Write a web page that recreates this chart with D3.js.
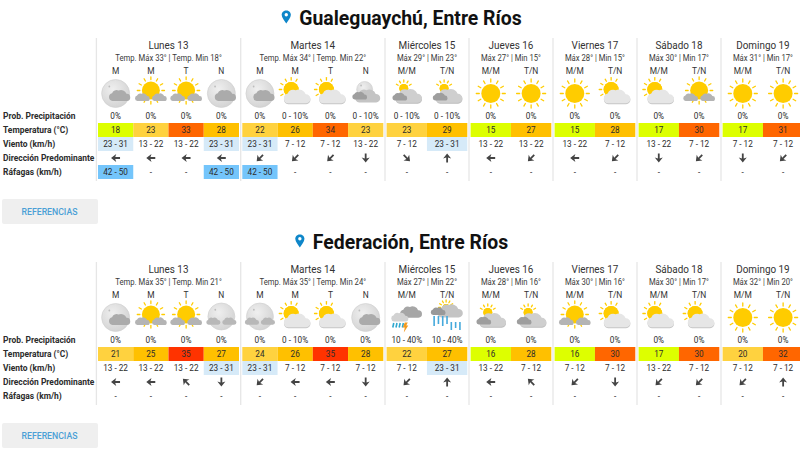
<!DOCTYPE html>
<html lang="es">
<head>
<meta charset="utf-8">
<title>Pronóstico Entre Ríos</title>
<script src="https://cdn.jsdelivr.net/npm/d3@7"></script>
<style>
  html, body { margin: 0; padding: 0; background: #fff; }
  svg { display: block; font-family: Roboto, sans-serif; }
  .title { font-size: 19.4px; font-weight: 700; fill: #111; }
  .day { font-size: 9.9px; fill: #333; text-anchor: middle; }
  .sub { font-size: 7.7px; fill: #3a3a3a; text-anchor: middle; }
  .period { font-size: 8.4px; fill: #333; text-anchor: middle; }
  .val { font-size: 8.2px; fill: #2c2c2c; text-anchor: middle; }
  .row-label { font-size: 8.45px; font-weight: 700; fill: #2c2c2c; }
  .btn { font-size: 8.7px; font-weight: 500; fill: #4b9fd6; text-anchor: middle; }
  /* el texto original es un poco mas alto que ancho */
  .day, .sub, .period, .val, .row-label { transform-box: fill-box; transform-origin: center; transform: scaleY(1.14); }
</style>
</head>
<body>
<div id="chart"></div>
<script>
// Pronóstico extendido, dos localidades

const DAYS = ["Lunes 13", "Martes 14", "Miércoles 15", "Jueves 16", "Viernes 17", "Sábado 18", "Domingo 19"];
const PERIODS = [["M", "M", "T", "N"], ["M", "M", "T", "N"], ["M/M", "T/N"], ["M/M", "T/N"], ["M/M", "T/N"], ["M/M", "T/N"], ["M/M", "T/N"]];
const ROW_LABELS = ["Prob. Precipitación", "Temperatura (°C)", "Viento (km/h)", "Dirección Predominante", "Ráfagas (km/h)"];

// Gualeguaychú
const G_MAX = [33, 34, 29, 27, 28, 30, 31];
const G_MIN = [18, 22, 23, 15, 15, 17, 17];
const G_ICONS = ["moonCloud", "sunGrey", "sunGrey", "moonCloud", "moonCloud", "sunPale", "sunPale", "moonDark", "sunDark", "sunDark", "sun", "sun", "sun", "sunPale", "sunPale", "sunGrey", "sun", "sun"];
const G_PROB = ["0%", "0%", "0%", "0%", "0%", "0 - 10%", "0%", "0 - 10%", "0 - 10%", "0 - 10%", "0%", "0%", "0%", "0%", "0%", "0%", "0%", "0%"];
const G_TEMP = [18, 23, 33, 28, 22, 26, 34, 23, 23, 29, 15, 27, 15, 28, 17, 30, 17, 31];
const G_WIND = ["23 - 31", "13 - 22", "13 - 22", "23 - 31", "23 - 31", "7 - 12", "7 - 12", "13 - 22", "7 - 12", "23 - 31", "13 - 22", "13 - 22", "13 - 22", "7 - 12", "13 - 22", "7 - 12", "7 - 12", "7 - 12"];
const G_DIR = ["W", "W", "W", "W", "SW", "SW", "SW", "S", "SE", "N", "W", "SW", "W", "SW", "S", "SW", "S", "SW"];
const G_GUST = ["42 - 50", "-", "-", "42 - 50", "42 - 50", "-", "-", "-", "-", "-", "-", "-", "-", "-", "-", "-", "-", "-"];

// Federación
const F_MAX = [35, 35, 27, 28, 30, 30, 32];
const F_MIN = [21, 24, 22, 16, 16, 17, 20];
const F_ICONS = ["moonCloud", "sunGrey", "sunGrey", "moonGrey", "moonGrey", "sunPale", "sunPale", "moonCloud", "storm", "rain", "sunDark", "sunDark", "sunGrey", "sunPale", "sunPale", "sunPale", "sun", "sun"];
const F_PROB = ["0%", "0%", "0%", "0%", "0%", "0 - 10%", "0%", "0%", "10 - 40%", "10 - 40%", "0%", "0%", "0%", "0%", "0%", "0%", "0%", "0%"];
const F_TEMP = [21, 25, 35, 27, 24, 26, 35, 28, 22, 27, 16, 28, 16, 30, 17, 30, 20, 32];
const F_WIND = ["13 - 22", "13 - 22", "13 - 22", "23 - 31", "23 - 31", "7 - 12", "7 - 12", "7 - 12", "7 - 12", "23 - 31", "13 - 22", "7 - 12", "7 - 12", "7 - 12", "13 - 22", "7 - 12", "7 - 12", "7 - 12"];
const F_DIR = ["W", "W", "NW", "S", "SW", "W", "W", "S", "SW", "N", "W", "NW", "SW", "S", "SW", "SW", "SW", "N"];
const F_GUST = ["-", "-", "-", "-", "-", "-", "-", "-", "-", "-", "-", "-", "-", "-", "-", "-", "-", "-"];

const DIR_ANGLE = { N: 0, NE: 45, E: 90, SE: 135, S: 180, SW: 225, W: 270, NW: 315 };

const tempColor = d3.scaleThreshold()
  .domain([20, 25, 30, 35])
  .range(["#DDFF00", "#FFD23F", "#FFC000", "#FF6600", "#FF3300"]);
const windColor = v => v === "23 - 31" ? "#D6EAF8" : "none";
const gustColor = v => v === "42 - 50" ? "#74C5FB" : "none";

const svg = d3.select("#chart").append("svg")
  .attr("width", 800).attr("height", 450)
  .attr("viewBox", "0 0 800 450");

const defs = svg.append("defs");
const moonGrad = defs.append("radialGradient").attr("id", "moonFill").attr("cx", "40%").attr("cy", "35%").attr("r", "70%");
moonGrad.append("stop").attr("offset", "0%").attr("stop-color", "#efefef");
moonGrad.append("stop").attr("offset", "100%").attr("stop-color", "#d2d2d2");

// columnas: los dias de 4 periodos son mas anchos
const LEFT = 98, GAP = 3.3, WIDE = 141, NARROW = 80.7;
const dayWidths = PERIODS.map(p => p.length === 4 ? WIDE : NARROW);
const dayStarts = [LEFT, ...d3.cumsum(dayWidths.map(w => w + GAP)).map(s => LEFT + s)].slice(0, DAYS.length);

const cellScales = PERIODS.map((p, i) =>
  d3.scaleBand().domain(d3.range(p.length)).range([dayStarts[i], dayStarts[i] + dayWidths[i]]));

const cellX = [];
PERIODS.forEach((p, day) => p.forEach((label, j) => {
  cellX.push({ day, label, x: cellScales[day](j), w: cellScales[day].bandwidth() });
}));

// filas, y relativa al panel
const rowY = d3.scalePoint().domain(d3.range(ROW_LABELS.length)).range([116, 172]);
const ROW_H = 14;

drawPanel(0, "Gualeguaychú, Entre Ríos", G_MAX, G_MIN, G_ICONS, G_PROB, G_TEMP, G_WIND, G_DIR, G_GUST);
drawPanel(224, "Federación, Entre Ríos", F_MAX, F_MIN, F_ICONS, F_PROB, F_TEMP, F_WIND, F_DIR, F_GUST);

function drawPanel(offset, city, maxT, minT, icons, prob, temp, wind, dir, gust) {
  const g = svg.append("g").attr("transform", `translate(0,${offset})`);

  // titulo con pin
  const title = g.append("text").attr("class", "title").attr("x", 410.5).attr("y", 24.5).attr("text-anchor", "middle").text(city);
  const left = title.node().getBBox().x;
  g.append("path")
    .attr("transform", `translate(${left - 13},17)`)
    .attr("fill", "#0E86C9")
    .attr("fill-rule", "evenodd")
    .attr("d", "M0,-6.5 C-3.4,-6.5 -4.6,-3.8 -4.6,-2.2 C-4.6,1 -1.6,4 0,6.5 C1.6,4 4.6,1 4.6,-2.2 C4.6,-3.8 3.4,-6.5 0,-6.5 Z M0,-3.9 A1.7,1.7 0 1 1 0,-0.5 A1.7,1.7 0 1 1 0,-3.9 Z");

  // separadores
  g.selectAll("line.sep")
    .data(dayStarts)
    .join("line")
      .attr("class", "sep")
      .attr("x1", d => d - 1.6).attr("x2", d => d - 1.6)
      .attr("y1", 38).attr("y2", 181)
      .attr("stroke", "#e6e6e6").attr("stroke-width", 1.3);

  // encabezado de dia
  g.selectAll("text.day")
    .data(DAYS)
    .join("text")
      .attr("class", "day")
      .attr("x", (d, i) => dayStarts[i] + dayWidths[i] / 2)
      .attr("y", 48.5)
      .text(d => d);

  g.selectAll("text.sub")
    .data(DAYS)
    .join("text")
      .attr("class", "sub")
      .attr("x", (d, i) => dayStarts[i] + dayWidths[i] / 2)
      .attr("y", 60.5)
      .text((d, i) => PERIODS[i].length === 4
        ? `Temp. Máx ${maxT[i]}° | Temp. Min ${minT[i]}°`
        : `Máx ${maxT[i]}° | Min ${minT[i]}°`);

  g.selectAll("text.period")
    .data(cellX)
    .join("text")
      .attr("class", "period")
      .attr("x", d => d.x + d.w / 2)
      .attr("y", 74)
      .text(d => d.label);

  // iconos
  g.selectAll("g.icon")
    .data(icons)
    .join("g")
      .attr("class", "icon")
      .attr("transform", (d, i) => `translate(${cellX[i].x + cellX[i].w / 2},93.5)`)
      .each(function(d) { drawIcon(d3.select(this), d); });

  // etiquetas de filas
  g.selectAll("text.row-label")
    .data(ROW_LABELS)
    .join("text")
      .attr("class", "row-label")
      .attr("x", 3)
      .attr("y", (d, i) => rowY(i))
      .attr("dy", "0.35em")
      .text(d => d);

  drawTextRow(g, "prob", 0, prob, () => "none");
  drawTextRow(g, "temp", 1, temp, tempColor);
  drawTextRow(g, "wind", 2, wind, windColor);
  drawTextRow(g, "gust", 4, gust, gustColor);

  // flechas de direccion
  g.selectAll("path.dir")
    .data(dir)
    .join("path")
      .attr("class", "dir")
      .attr("transform", (d, i) => `translate(${cellX[i].x + cellX[i].w / 2},${rowY(3)}) rotate(${DIR_ANGLE[d]})`)
      .attr("fill", "#444")
      .attr("d", "M0,-4.6 L4,0.6 L0.9,-0.4 L0.9,4.4 L-0.9,4.4 L-0.9,-0.4 L-4,0.6 Z");

  // boton
  g.append("rect")
    .attr("x", 2).attr("y", 199).attr("width", 96).attr("height", 25).attr("rx", 2)
    .attr("fill", "#EFEFEF");
  g.append("text").attr("class", "btn").attr("x", 49.5).attr("y", 214.5).text("REFERENCIAS");
}

function drawTextRow(g, name, row, values, color) {
  const y = rowY(row);
  g.selectAll(`rect.${name}`)
    .data(values)
    .join("rect")
      .attr("class", name)
      .attr("x", (d, i) => cellX[i].x)
      .attr("y", y - ROW_H / 2)
      .attr("width", (d, i) => cellX[i].w)
      .attr("height", ROW_H)
      .attr("fill", d => color(d));
  g.selectAll(`text.${name}`)
    .data(values)
    .join("text")
      .attr("class", `val ${name}`)
      .attr("x", (d, i) => cellX[i].x + cellX[i].w / 2)
      .attr("y", y)
      .attr("dy", "0.35em")
      .text(d => d);
}

// ---- iconos ----
function cloud(g, cx, cy, s, fill, shade) {
  const c = g.append("g").attr("transform", `translate(${cx},${cy}) scale(${s})`);
  const shape = "M-10,7 A5.5,5.5 0 0 1 -10.5,-3.8 A6.5,6.5 0 0 1 -1.5,-7.5 A8,8 0 0 1 9.5,-3 A5,5 0 0 1 10,7 Z";
  if (shade) c.append("path").attr("d", shape).attr("transform", "translate(0,1)").attr("fill", shade);
  c.append("path").attr("d", shape).attr("fill", fill);
}

function sunShape(g, cx, cy, r, rayLen, from = 0, to = 360) {
  d3.range(12).forEach(k => {
    const deg = k * 30;
    if (deg < from || deg > to) return;
    const a = (deg - 90) * Math.PI / 180;
    g.append("line")
      .attr("x1", cx + Math.cos(a) * (r + 2)).attr("y1", cy + Math.sin(a) * (r + 2))
      .attr("x2", cx + Math.cos(a) * (r + 2 + rayLen)).attr("y2", cy + Math.sin(a) * (r + 2 + rayLen))
      .attr("stroke", "#FFCC00").attr("stroke-width", 1.3).attr("stroke-linecap", "round");
  });
  g.append("circle").attr("cx", cx).attr("cy", cy).attr("r", r).attr("fill", "#FFCC00");
}

function moon(g, cx, cy, r) {
  g.append("circle").attr("cx", cx).attr("cy", cy).attr("r", r)
    .attr("fill", "url(#moonFill)").attr("stroke", "#cfcfcf").attr("stroke-width", 0.6);
  g.append("circle").attr("cx", cx - r * 0.45).attr("cy", cy - r * 0.5).attr("r", 0.9).attr("fill", "#bdbdbd");
}

function drawIcon(g, kind) {
  if (kind === "sun") {
    sunShape(g, 0, 0, 9.5, 3);
  } else if (kind === "moonCloud") {
    moon(g, 0, 0, 14);
    cloud(g, 4, 2.5, 0.72, "#ababab");
  } else if (kind === "moonGrey") {
    moon(g, 0, -1, 13.5);
    cloud(g, -8, 4, 0.48, "#b8b8b8");
    cloud(g, 8, 4, 0.48, "#b8b8b8");
  } else if (kind === "moonDark") {
    moon(g, -1, -4, 8);
    cloud(g, 2, 3, 0.85, "#c4c4c4");
    cloud(g, -6, 2.5, 0.5, "#9e9e9e");
  } else if (kind === "sunGrey") {
    sunShape(g, 0, -3, 9, 2.6);
    cloud(g, -8.5, 4, 0.5, "#b4b4b4");
    cloud(g, 8.5, 4, 0.5, "#b4b4b4");
  } else if (kind === "sunPale") {
    sunShape(g, -4, -4, 7.5, 2.4, 240, 360);
    sunShape(g, -4, -4, 7.5, 2.4, 0, 30);
    cloud(g, 2, 3.5, 0.9, "#e6e6e6", "#c6c6c6");
  } else if (kind === "sunDark") {
    sunShape(g, -3, -5, 4.5, 2, 300, 360);
    sunShape(g, -3, -5, 4.5, 2, 0, 60);
    cloud(g, 2, 3, 0.9, "#cfcfcf", "#bcbcbc");
    cloud(g, -7, 3.5, 0.5, "#9e9e9e");
  } else if (kind === "storm") {
    cloud(g, 4.3, -5, 0.74, "#a6a6a6");
    cloud(g, -7, 0, 0.58, "#d2d2d2");
    d3.range(4).forEach(k => g.append("line")
      .attr("x1", -13 + k * 3.2).attr("x2", -14 + k * 3.2).attr("y1", 5.5).attr("y2", 10)
      .attr("stroke", "#2FA8CF").attr("stroke-width", 1.6));
    g.append("path").attr("fill", "#F39A1E").attr("d", "M-2,5 L1,5 L-0.5,8 L1.5,8 L-3,15 L-2,10 L-4,10 Z");
  } else if (kind === "rain") {
    sunShape(g, -1, -10, 3.5, 2, 270, 360);
    sunShape(g, -1, -10, 3.5, 2, 0, 90);
    cloud(g, 3, -6, 0.86, "#c4c4c4");
    cloud(g, -9, -6, 0.5, "#999999");
    d3.range(7).forEach(k => {
      const right = k > 3;
      g.append("line")
        .attr("x1", -13 + k * 4.3).attr("x2", -13 + k * 4.3)
        .attr("y1", right ? 4.5 : -1.5).attr("y2", (right ? 12.5 : 8.5) - (k % 2) * 2)
        .attr("stroke", "#45A9DC").attr("stroke-width", 1.6);
    });
  }
}
</script>
</body>
</html>
